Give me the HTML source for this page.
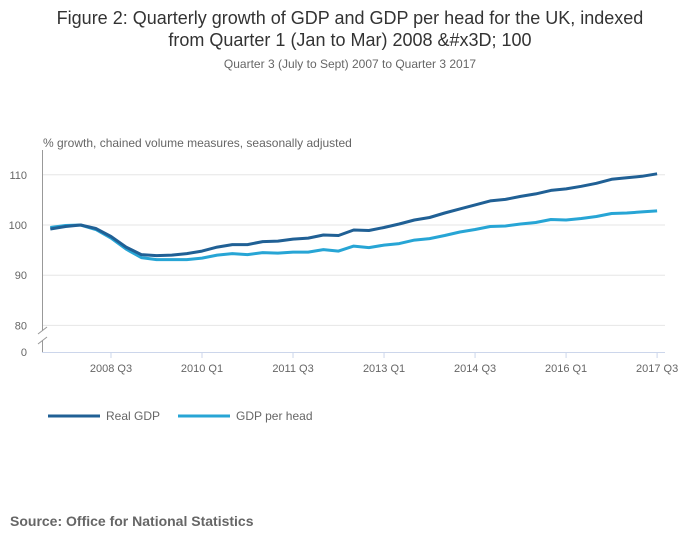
<!DOCTYPE html>
<html><head><meta charset="utf-8"><style>
body{margin:0;background:#fff;font-family:"Liberation Sans","DejaVu Sans",sans-serif;}
svg text{font-family:"Liberation Sans","DejaVu Sans",sans-serif;}
</style></head><body>
<svg id="c" width="700" height="549">
<text x="350" y="24" text-anchor="middle" font-size="18" fill="#333">Figure 2: Quarterly growth of GDP and GDP per head for the UK, indexed</text>
<text x="350" y="46" text-anchor="middle" font-size="18" fill="#333">from Quarter 1 (Jan to Mar) 2008 &amp;#x3D; 100</text>
<text x="350" y="68" text-anchor="middle" font-size="12" fill="#666">Quarter 3 (July to Sept) 2007 to Quarter 3 2017</text>
<text x="43" y="147" font-size="12" fill="#666">% growth, chained volume measures, seasonally adjusted</text>
<text x="10" y="526" font-size="14" font-weight="bold" fill="#666">Source: Office for National Statistics</text>
<g id="grid"></g><g id="axes"></g><g id="lines"></g><g id="legend"></g>
</svg>
<script>
const yTicks=[80,90,100,110];
const xTickLabels=["2008 Q3","2010 Q1","2011 Q3","2013 Q1","2014 Q3","2016 Q1","2017 Q3"];
const xTickIdx=[4,10,16,22,28,34,40];
const realGDP=[99.2,99.7,100,99.3,97.7,95.6,94.1,93.9,94.0,94.3,94.8,95.6,96.1,96.1,96.7,96.8,97.2,97.4,98.0,97.9,99.0,98.9,99.5,100.2,101.0,101.5,102.4,103.2,104.0,104.8,105.1,105.7,106.2,106.9,107.2,107.7,108.3,109.1,109.4,109.7,110.2];
const gdpPerHead=[99.5,99.9,100,99.1,97.4,95.2,93.5,93.1,93.1,93.1,93.4,94.0,94.3,94.1,94.5,94.4,94.6,94.6,95.1,94.8,95.8,95.5,96.0,96.3,97.0,97.3,97.9,98.6,99.1,99.7,99.8,100.2,100.5,101.1,101.0,101.3,101.7,102.3,102.4,102.6,102.8];
const NS="http://www.w3.org/2000/svg";
const x=i=>50.3+i*15.17, y=v=>225-(v-100)*5.02;
function mk(t,a,p){const e=document.createElementNS(NS,t);for(const k in a)e.setAttribute(k,a[k]);p.appendChild(e);return e;}
const g=document.getElementById('grid'),ax=document.getElementById('axes'),ln=document.getElementById('lines'),lg=document.getElementById('legend');
yTicks.forEach(v=>{const l=mk('line',{x1:42,x2:665,y1:y(v),y2:y(v),stroke:'#e6e6e6'},g);


const t=mk('text',{x:27,y:y(v)+4,'text-anchor':'end','font-size':11,fill:'#666'},ax);t.textContent=v;

});
const t0=mk('text',{x:27,y:356,'text-anchor':'end','font-size':11,fill:'#666'},ax);t0.textContent='0';


mk('line',{x1:42.5,x2:42.5,y1:150,y2:331,stroke:'#999'},ax);
mk('line',{x1:42.5,x2:42.5,y1:340,y2:352,stroke:'#999'},ax);
mk('line',{x1:38,x2:47,y1:334,y2:327,stroke:'#999'},ax);
mk('line',{x1:38,x2:47,y1:344,y2:337,stroke:'#999'},ax);
mk('line',{x1:42,x2:665,y1:352.5,y2:352.5,stroke:'#ccd6eb'},ax);
xTickIdx.forEach((idx,k)=>{mk('line',{x1:x(idx),x2:x(idx),y1:352,y2:358,stroke:'#ccd6eb'},ax);
const t=mk('text',{x:x(idx),y:372,'text-anchor':'middle','font-size':11,fill:'#666'},ax);t.textContent=xTickLabels[k];

});
function series(d,c,name){const p=mk('path',{d:d.map((v,i)=>(i?'L':'M')+x(i).toFixed(1)+','+y(v).toFixed(1)).join(''),fill:'none',stroke:c,'stroke-width':3,'stroke-linejoin':'round'},ln);

}
series(gdpPerHead,'#27a5d5','gdp-per-head-line');
series(realGDP,'#206095','real-gdp-line');
[['Real GDP','#206095',48],['GDP per head','#27a5d5',178]].forEach(([n,c,x0])=>{
const e=mk('g',{},lg);


mk('line',{x1:x0,x2:x0+52,y1:416,y2:416,stroke:c,'stroke-width':3},e);
const t=mk('text',{x:x0+58,y:420,'font-size':12,fill:'#666'},e);t.textContent=n;});
</script>
</body></html>
